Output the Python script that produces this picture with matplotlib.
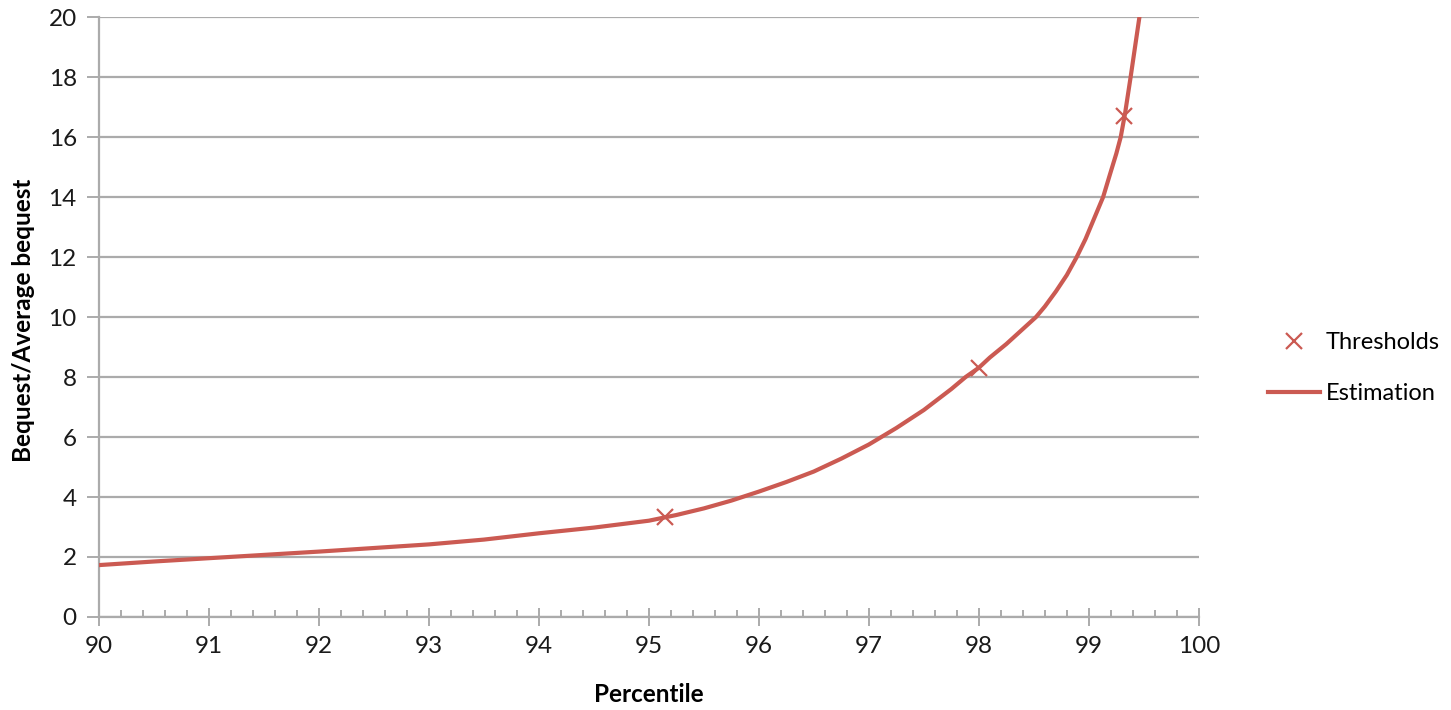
import matplotlib.pyplot as plt
from matplotlib.ticker import MultipleLocator

plt.rcParams['font.family'] = ['Lato', 'DejaVu Sans']

# estimation curve
pct = [90, 90.5, 91, 91.5, 92, 92.5, 93, 93.5, 94, 94.5, 95, 95.25, 95.5,
       95.75, 96, 96.25, 96.5, 96.75, 97, 97.25, 97.5, 97.75, 97.88, 98,
       98.1, 98.25, 98.4, 98.52, 98.6, 98.7, 98.8, 98.89, 98.97, 99.05,
       99.13, 99.2, 99.25, 99.29, 99.33, 99.38, 99.42, 99.46]
est = [1.73, 1.85, 1.96, 2.07, 2.18, 2.30, 2.42, 2.58, 2.79, 2.98, 3.21,
       3.40, 3.62, 3.88, 4.18, 4.50, 4.85, 5.28, 5.75, 6.30, 6.90, 7.60,
       8.0, 8.31, 8.65, 9.10, 9.60, 10.0, 10.35, 10.85, 11.40, 12.0, 12.6,
       13.3, 14.0, 14.85, 15.45, 16.0, 16.8, 18.0, 19.0, 20.0]

# thresholds
thr_x = [95.15, 98.0, 99.32]
thr_y = [3.34, 8.31, 16.71]

red = '#CB5A52'
grey = '#ABABAB'

fig = plt.figure(figsize=(14.51, 7.10), dpi=100)
ax = fig.add_axes([0.0682, 0.131, 0.758, 0.845])

ax.plot(thr_x, thr_y, 'x', color=red, ms=11, mew=1.6, label='Thresholds', zorder=4)
ax.plot(pct, est, '-', color=red, lw=3, label='Estimation', zorder=3,
        solid_joinstyle='round')

ax.set_xlim(90, 100)
ax.set_ylim(0, 20)
ax.xaxis.set_major_locator(MultipleLocator(1))
ax.xaxis.set_minor_locator(MultipleLocator(0.2))
ax.yaxis.set_major_locator(MultipleLocator(2))

ax.grid(axis='y', color=grey, lw=1.6)
ax.set_axisbelow(True)
for s in ['top', 'right']:
    ax.spines[s].set_visible(False)
for s in ['left', 'bottom']:
    ax.spines[s].set_color(grey)
    ax.spines[s].set_linewidth(1.6)

ax.tick_params(axis='x', which='major', direction='inout', length=13, width=1.4,
               color=grey, labelsize=17.5, pad=7, labelcolor='#1a1a1a')
ax.tick_params(axis='x', which='minor', direction='in', length=5, width=1.4, color=grey)
ax.tick_params(axis='y', which='major', direction='out', length=9, width=1.4,
               color=grey, labelsize=17.5, pad=7, labelcolor='#1a1a1a')

ax.set_xlabel('Percentile', fontsize=17.5, fontweight='bold')
ax.set_ylabel('Bequest/Average bequest', fontsize=17.5, fontweight='bold')
ax.xaxis.set_label_coords(0.5, -0.11)
ax.yaxis.set_label_coords(-0.058, 0.495)

ax.legend(loc='upper left', bbox_to_anchor=(1.054, 0.49), frameon=False,
          fontsize=17, handlelength=2.2, handletextpad=0.25, labelspacing=1.25,
          borderaxespad=0)

fig.savefig('out.png', dpi=100)
